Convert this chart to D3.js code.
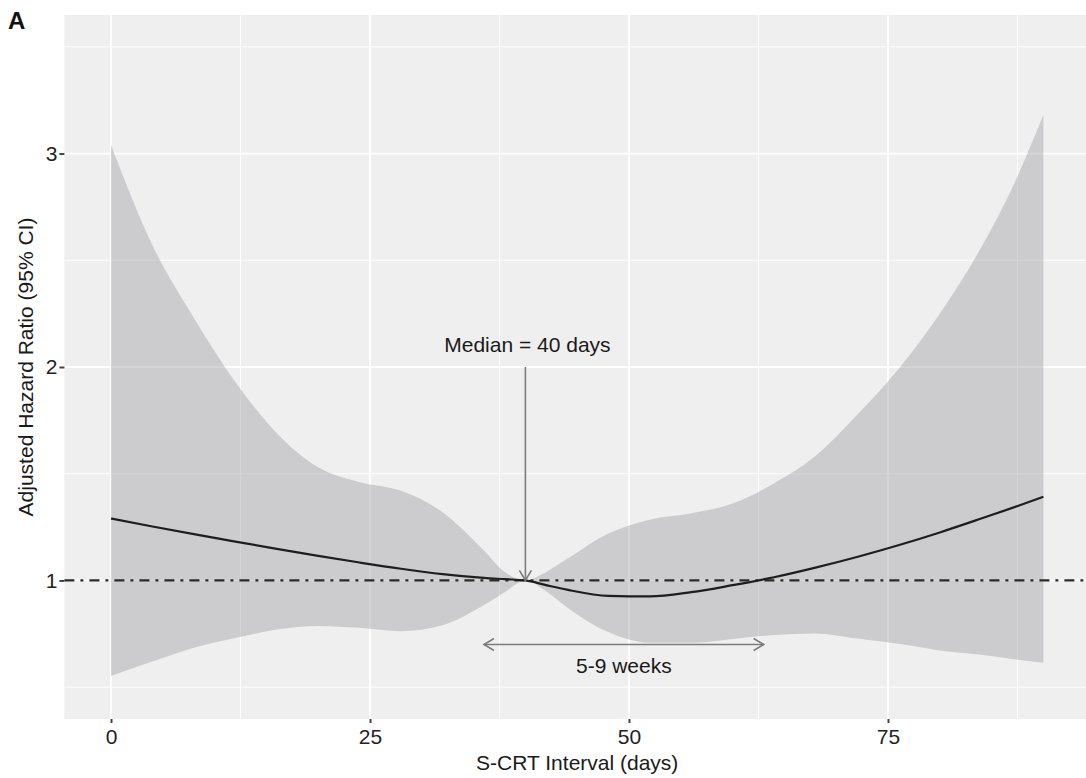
<!DOCTYPE html>
<html>
<head>
<meta charset="utf-8">
<script src="https://cdn.jsdelivr.net/npm/d3@7"></script>
<style>
  body { margin: 0; background: #fff; }
  text { font-family: "Liberation Sans", Arial, sans-serif; }
</style>
</head>
<body>
<div id="chart"></div>
<script>
// days at which the curve and its 95% CI were read
var days  = [0, 4, 8, 12, 16, 20, 24, 28, 32, 36, 38, 40, 42, 44, 48, 52, 56, 60, 64, 68, 72, 76, 80, 84, 87, 90]
var hr    = [1.29, 1.253, 1.217, 1.182, 1.148, 1.115, 1.084, 1.055, 1.03, 1.012, 1.006, 1.0, 0.978, 0.957, 0.928, 0.925, 0.945, 0.978, 1.015, 1.06, 1.11, 1.165, 1.225, 1.29, 1.34, 1.392]
var upper = [3.04, 2.57, 2.23, 1.93, 1.69, 1.53, 1.46, 1.42, 1.32, 1.14, 1.04, 1.0, 1.04, 1.10, 1.22, 1.285, 1.315, 1.36, 1.455, 1.583, 1.775, 1.99, 2.25, 2.56, 2.84, 3.18]
var lower = [0.553, 0.62, 0.685, 0.73, 0.77, 0.787, 0.778, 0.762, 0.79, 0.885, 0.945, 1.0, 0.95, 0.875, 0.758, 0.708, 0.708, 0.726, 0.745, 0.752, 0.728, 0.703, 0.672, 0.652, 0.632, 0.615]

var xTicks = [0, 25, 50, 75]
var xMinor = [12.5, 37.5, 62.5, 87.5]
var yTicks = [1, 2, 3]
var yMinor = [0.5, 1.5, 2.5, 3.5]

var medianDay = 40
var windowDays = [36, 63]   // 5-9 weeks

var width = 1086,
	height = 778,
	fontSize = 21

var svg = d3.select('#chart').append('svg')
	.attr('width', width)
	.attr('height', height)

var x = d3.scaleLinear()
	.domain([-4.5, 94.5])
	.range([64.4, 1090])

var y = d3.scaleLinear()
	.domain([0.351, 3.649])
	.range([719, 15])

var pTop = y.range()[1], pBottom = y.range()[0]
var pLeft = x.range()[0], pRight = x.range()[1]

// panel background
svg.append('rect')
	.attr('x', pLeft).attr('y', pTop)
	.attr('width', pRight - pLeft).attr('height', pBottom - pTop)
	.attr('fill', '#efeff0')

// grid
svg.selectAll('.gx-minor').data(xMinor).enter().append('line')
	.attr('x1', d => x(d)).attr('x2', d => x(d))
	.attr('y1', pTop).attr('y2', pBottom)
	.attr('stroke', '#fff').attr('stroke-width', 0.9)
svg.selectAll('.gy-minor').data(yMinor).enter().append('line')
	.attr('y1', d => y(d)).attr('y2', d => y(d))
	.attr('x1', pLeft).attr('x2', pRight)
	.attr('stroke', '#fff').attr('stroke-width', 0.9)
svg.selectAll('.gx').data(xTicks).enter().append('line')
	.attr('x1', d => x(d)).attr('x2', d => x(d))
	.attr('y1', pTop).attr('y2', pBottom)
	.attr('stroke', '#fff').attr('stroke-width', 1.8)
svg.selectAll('.gy').data(yTicks).enter().append('line')
	.attr('y1', d => y(d)).attr('y2', d => y(d))
	.attr('x1', pLeft).attr('x2', pRight)
	.attr('stroke', '#fff').attr('stroke-width', 1.8)

var rows = days.map(function (d, i) {
	return { day: d, hr: hr[i], lo: lower[i], hi: upper[i] }
})

// confidence band
var band = d3.area()
	.x(d => x(d.day))
	.y0(d => y(d.lo))
	.y1(d => y(d.hi))
	.curve(d3.curveMonotoneX)

svg.append('path')
	.datum(rows)
	.attr('d', band)
	.attr('fill', '#999799')
	.attr('fill-opacity', 0.4)

// reference line at HR = 1
svg.append('line')
	.attr('x1', pLeft).attr('x2', pRight)
	.attr('y1', y(1)).attr('y2', y(1))
	.attr('stroke', '#2a2a2a')
	.attr('stroke-width', 2.2)
	.attr('stroke-dasharray', '10,6,3,6')

// hazard ratio curve
var line = d3.line()
	.x(d => x(d.day))
	.y(d => y(d.hr))
	.curve(d3.curveMonotoneX)

svg.append('path')
	.datum(rows)
	.attr('d', line)
	.attr('fill', 'none')
	.attr('stroke', '#1e1e1e')
	.attr('stroke-width', 2.2)

// median arrow
var arrowColor = '#7d7b7c'
var mx = x(medianDay), my0 = y(2), my1 = y(1)
svg.append('line')
	.attr('x1', mx).attr('x2', mx)
	.attr('y1', my0).attr('y2', my1)
	.attr('stroke', arrowColor).attr('stroke-width', 1.6)
svg.append('path')
	.attr('d', 'M' + (mx - 6) + ',' + (my1 - 10) + 'L' + mx + ',' + my1 + 'L' + (mx + 6) + ',' + (my1 - 10))
	.attr('fill', 'none').attr('stroke', arrowColor).attr('stroke-width', 1.6)

svg.append('text')
	.attr('x', mx + 2).attr('y', y(2) - 15)
	.attr('text-anchor', 'middle')
	.attr('font-size', fontSize)
	.attr('fill', '#1a1a1a')
	.text('Median = ' + medianDay + ' days')

// 5-9 weeks double arrow
var ax0 = x(windowDays[0]), ax1 = x(windowDays[1]), ay = y(0.7)
svg.append('line')
	.attr('x1', ax0).attr('x2', ax1)
	.attr('y1', ay).attr('y2', ay)
	.attr('stroke', arrowColor).attr('stroke-width', 1.6)
svg.append('path')
	.attr('d', 'M' + (ax0 + 10) + ',' + (ay - 6) + 'L' + ax0 + ',' + ay + 'L' + (ax0 + 10) + ',' + (ay + 6))
	.attr('fill', 'none').attr('stroke', arrowColor).attr('stroke-width', 1.6)
svg.append('path')
	.attr('d', 'M' + (ax1 - 10) + ',' + (ay - 6) + 'L' + ax1 + ',' + ay + 'L' + (ax1 - 10) + ',' + (ay + 6))
	.attr('fill', 'none').attr('stroke', arrowColor).attr('stroke-width', 1.6)
svg.append('text')
	.attr('x', (ax0 + ax1) / 2).attr('y', ay + 28)
	.attr('text-anchor', 'middle')
	.attr('font-size', fontSize)
	.attr('fill', '#1a1a1a')
	.text('5-9 weeks')

// axes
var xAxis = d3.axisBottom(x).tickValues(xTicks).tickSize(4).tickPadding(6)
var yAxis = d3.axisLeft(y).tickValues(yTicks).tickFormat(d3.format('d')).tickSize(5).tickPadding(2)

var gx = svg.append('g')
	.attr('transform', 'translate(0,' + pBottom + ')')
	.call(xAxis)
gx.select('.domain').remove()
gx.selectAll('line').attr('stroke', '#444').attr('stroke-width', 2)
gx.selectAll('text').attr('font-size', fontSize).attr('fill', '#222')
	.attr('font-family', '"Liberation Sans", Arial, sans-serif')

var gy = svg.append('g')
	.attr('transform', 'translate(' + pLeft + ',0)')
	.call(yAxis)
gy.select('.domain').remove()
gy.selectAll('line').attr('stroke', '#444').attr('stroke-width', 2)
gy.selectAll('text').attr('font-size', fontSize).attr('fill', '#222')
	.attr('font-family', '"Liberation Sans", Arial, sans-serif')

// axis titles
svg.append('text')
	.attr('x', (pLeft + pRight) / 2).attr('y', 770)
	.attr('text-anchor', 'middle')
	.attr('font-size', fontSize)
	.attr('fill', '#1a1a1a')
	.text('S-CRT Interval (days)')

svg.append('text')
	.attr('transform', 'translate(33,' + ((pTop + pBottom) / 2) + ') rotate(-90)')
	.attr('text-anchor', 'middle')
	.attr('font-size', fontSize)
	.attr('fill', '#1a1a1a')
	.text('Adjusted Hazard Ratio (95% CI)')

// panel tag
svg.append('text')
	.attr('x', 8).attr('y', 29)
	.attr('font-size', 24)
	.attr('font-weight', 'bold')
	.attr('fill', '#111')
	.text('A')
</script>
</body>
</html>
